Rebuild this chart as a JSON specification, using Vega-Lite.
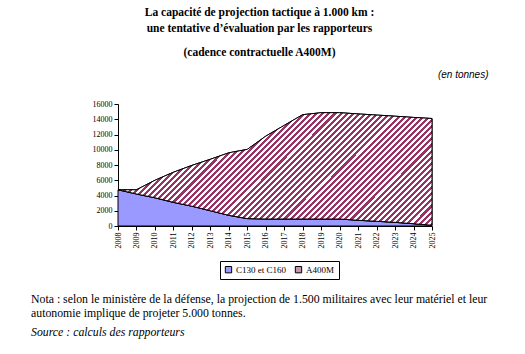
{
  "$schema": "https://vega.github.io/schema/vega-lite/v6.json",
  "autosize": "pad",
  "padding": {"left": 31, "top": 7, "right": 5, "bottom": 5},
  "background": "white",
  "config": {"view": {"stroke": null}, "font": "Liberation Serif"},
  "title": {
    "text": ["La capacité de projection tactique à 1.000 km :", "une tentative d’évaluation par les rapporteurs"],
    "subtitle": "(cadence contractuelle A400M)",
    "font": "Liberation Serif", "fontSize": 11.5, "fontWeight": "bold", "color": "black", "lineHeight": 16,
    "subtitleFont": "Liberation Serif", "subtitleFontSize": 11.5, "subtitleFontWeight": "bold", "subtitleColor": "black",
    "subtitlePadding": 12, "anchor": "middle", "offset": 11
  },
  "vconcat": [
    {
      "width": 314,
      "height": 122,
      "title": {
        "text": ["Nota : selon le ministère de la défense, la projection de 1.500 militaires avec leur matériel et leur", "autonomie implique de projeter 5.000 tonnes."],
        "subtitle": "Source : calculs des rapporteurs",
        "orient": "bottom", "anchor": "start", "frame": "group", "dx": -87, "offset": 46,
        "font": "Liberation Serif", "fontSize": 11.8, "fontWeight": "normal", "color": "black", "lineHeight": 14,
        "subtitleFont": "Liberation Serif", "subtitleFontSize": 11.8, "subtitleFontStyle": "italic", "subtitleColor": "black",
        "subtitlePadding": 7
      },
      "data": {
        "values": [
          {"year": 2008, "series": "C130 et C160", "tonnes": 4750},
          {"year": 2009, "series": "C130 et C160", "tonnes": 4200},
          {"year": 2010, "series": "C130 et C160", "tonnes": 3700},
          {"year": 2011, "series": "C130 et C160", "tonnes": 3100},
          {"year": 2012, "series": "C130 et C160", "tonnes": 2600},
          {"year": 2013, "series": "C130 et C160", "tonnes": 2000},
          {"year": 2014, "series": "C130 et C160", "tonnes": 1400},
          {"year": 2015, "series": "C130 et C160", "tonnes": 970},
          {"year": 2016, "series": "C130 et C160", "tonnes": 920},
          {"year": 2017, "series": "C130 et C160", "tonnes": 920},
          {"year": 2018, "series": "C130 et C160", "tonnes": 920},
          {"year": 2019, "series": "C130 et C160", "tonnes": 920},
          {"year": 2020, "series": "C130 et C160", "tonnes": 920},
          {"year": 2021, "series": "C130 et C160", "tonnes": 750},
          {"year": 2022, "series": "C130 et C160", "tonnes": 620},
          {"year": 2023, "series": "C130 et C160", "tonnes": 480},
          {"year": 2024, "series": "C130 et C160", "tonnes": 300},
          {"year": 2025, "series": "C130 et C160", "tonnes": 100},
          {"year": 2008, "series": "A400M", "tonnes": 0},
          {"year": 2009, "series": "A400M", "tonnes": 550},
          {"year": 2010, "series": "A400M", "tonnes": 2300},
          {"year": 2011, "series": "A400M", "tonnes": 3950},
          {"year": 2012, "series": "A400M", "tonnes": 5350},
          {"year": 2013, "series": "A400M", "tonnes": 6750},
          {"year": 2014, "series": "A400M", "tonnes": 8200},
          {"year": 2015, "series": "A400M", "tonnes": 9080},
          {"year": 2016, "series": "A400M", "tonnes": 10860},
          {"year": 2017, "series": "A400M", "tonnes": 12280},
          {"year": 2018, "series": "A400M", "tonnes": 13680},
          {"year": 2019, "series": "A400M", "tonnes": 13940},
          {"year": 2020, "series": "A400M", "tonnes": 13940},
          {"year": 2021, "series": "A400M", "tonnes": 13950},
          {"year": 2022, "series": "A400M", "tonnes": 13930},
          {"year": 2023, "series": "A400M", "tonnes": 13920},
          {"year": 2024, "series": "A400M", "tonnes": 13940},
          {"year": 2025, "series": "A400M", "tonnes": 14000}
        ]
      },
      "transform": [
        {"stack": "tonnes", "groupby": ["year"], "sort": [{"field": "series", "order": "descending"}], "as": ["y0", "y1"]}
      ],
      "encoding": {
        "x": {
          "field": "year", "type": "quantitative",
          "scale": {"domain": [2008, 2025], "nice": false, "zero": false},
          "axis": {
            "title": null, "values": [2008,2009,2010,2011,2012,2013,2014,2015,2016,2017,2018,2019,2020,2021,2022,2023,2024,2025],
            "format": "d", "labelAngle": -90, "labelFont": "Liberation Serif", "labelFontSize": 8, "labelColor": "black",
            "grid": false, "tickSize": 4, "tickColor": "black", "domainColor": "black", "labelPadding": 2, "labelFlush": false, "labelOverlap": false
          }
        },
        "y": {
          "field": "y1", "type": "quantitative",
          "scale": {"domain": [0, 16000], "nice": false},
          "axis": {
            "title": "(en tonnes)", "titleAngle": 0, "titleAlign": "right", "titleBaseline": "middle", "titleX": 370, "titleY": -30,
            "titleFont": "Liberation Sans", "titleFontStyle": "italic", "titleFontWeight": "normal", "titleFontSize": 10, "titleColor": "black",
            "values": [0,2000,4000,6000,8000,10000,12000,14000,16000], "format": "d",
            "labelFont": "Liberation Serif", "labelFontSize": 8, "labelColor": "black", "labelPadding": 2,
            "grid": false, "tickSize": 4, "tickColor": "black", "domainColor": "black"
          }
        },
        "y2": {"field": "y0"}
      },
      "layer": [
        {
          "mark": {"type": "area", "opacity": 1, "fillOpacity": 1, "stroke": "black", "strokeWidth": 1, "interpolate": "linear"},
          "encoding": {
            "color": {
              "field": "series", "type": "nominal",
              "scale": {"domain": ["C130 et C160", "A400M"], "range": ["#9999ff", "#c993ad"]},
              "legend": {
                "title": null, "orient": "none", "legendX": 102, "legendY": 157, "direction": "horizontal",
                "strokeColor": "black", "padding": 4, "cornerRadius": 0,
                "labelFont": "Liberation Serif", "labelFontSize": 9, "labelColor": "black",
                "symbolType": "square", "symbolSize": 40, "symbolStrokeColor": "black", "symbolStrokeWidth": 1,
                "columnPadding": 6, "labelOffset": 3
              }
            }
          }
        },
        {
          "transform": [{"filter": "datum.series == 'A400M'"}],
          "mark": {"type": "area", "opacity": 1, "fillOpacity": 1, "stroke": "black", "strokeWidth": 1, "interpolate": "linear",
            "color": {"gradient": "linear", "x1": 0, "y1": 0, "x2": 1.204, "y2": 0.431, "stops": [
{"offset":0,"color":"#fff"},
{"offset":0.0071,"color":"#fff"},{"offset":0.0071,"color":"#936"},
{"offset":0.0143,"color":"#936"},{"offset":0.0143,"color":"#fff"},
{"offset":0.0214,"color":"#fff"},{"offset":0.0214,"color":"#936"},
{"offset":0.0286,"color":"#936"},{"offset":0.0286,"color":"#fff"},
{"offset":0.0357,"color":"#fff"},{"offset":0.0357,"color":"#936"},
{"offset":0.0429,"color":"#936"},{"offset":0.0429,"color":"#fff"},
{"offset":0.05,"color":"#fff"},{"offset":0.05,"color":"#936"},
{"offset":0.0571,"color":"#936"},{"offset":0.0571,"color":"#fff"},
{"offset":0.0643,"color":"#fff"},{"offset":0.0643,"color":"#936"},
{"offset":0.0714,"color":"#936"},{"offset":0.0714,"color":"#fff"},
{"offset":0.0786,"color":"#fff"},{"offset":0.0786,"color":"#936"},
{"offset":0.0857,"color":"#936"},{"offset":0.0857,"color":"#fff"},
{"offset":0.0929,"color":"#fff"},{"offset":0.0929,"color":"#936"},
{"offset":0.1,"color":"#936"},{"offset":0.1,"color":"#fff"},
{"offset":0.1071,"color":"#fff"},{"offset":0.1071,"color":"#936"},
{"offset":0.1143,"color":"#936"},{"offset":0.1143,"color":"#fff"},
{"offset":0.1214,"color":"#fff"},{"offset":0.1214,"color":"#936"},
{"offset":0.1286,"color":"#936"},{"offset":0.1286,"color":"#fff"},
{"offset":0.1357,"color":"#fff"},{"offset":0.1357,"color":"#936"},
{"offset":0.1429,"color":"#936"},{"offset":0.1429,"color":"#fff"},
{"offset":0.15,"color":"#fff"},{"offset":0.15,"color":"#936"},
{"offset":0.1571,"color":"#936"},{"offset":0.1571,"color":"#fff"},
{"offset":0.1643,"color":"#fff"},{"offset":0.1643,"color":"#936"},
{"offset":0.1714,"color":"#936"},{"offset":0.1714,"color":"#fff"},
{"offset":0.1786,"color":"#fff"},{"offset":0.1786,"color":"#936"},
{"offset":0.1857,"color":"#936"},{"offset":0.1857,"color":"#fff"},
{"offset":0.1929,"color":"#fff"},{"offset":0.1929,"color":"#936"},
{"offset":0.2,"color":"#936"},{"offset":0.2,"color":"#fff"},
{"offset":0.2071,"color":"#fff"},{"offset":0.2071,"color":"#936"},
{"offset":0.2143,"color":"#936"},{"offset":0.2143,"color":"#fff"},
{"offset":0.2214,"color":"#fff"},{"offset":0.2214,"color":"#936"},
{"offset":0.2286,"color":"#936"},{"offset":0.2286,"color":"#fff"},
{"offset":0.2357,"color":"#fff"},{"offset":0.2357,"color":"#936"},
{"offset":0.2429,"color":"#936"},{"offset":0.2429,"color":"#fff"},
{"offset":0.25,"color":"#fff"},{"offset":0.25,"color":"#936"},
{"offset":0.2571,"color":"#936"},{"offset":0.2571,"color":"#fff"},
{"offset":0.2643,"color":"#fff"},{"offset":0.2643,"color":"#936"},
{"offset":0.2714,"color":"#936"},{"offset":0.2714,"color":"#fff"},
{"offset":0.2786,"color":"#fff"},{"offset":0.2786,"color":"#936"},
{"offset":0.2857,"color":"#936"},{"offset":0.2857,"color":"#fff"},
{"offset":0.2929,"color":"#fff"},{"offset":0.2929,"color":"#936"},
{"offset":0.3,"color":"#936"},{"offset":0.3,"color":"#fff"},
{"offset":0.3071,"color":"#fff"},{"offset":0.3071,"color":"#936"},
{"offset":0.3143,"color":"#936"},{"offset":0.3143,"color":"#fff"},
{"offset":0.3214,"color":"#fff"},{"offset":0.3214,"color":"#936"},
{"offset":0.3286,"color":"#936"},{"offset":0.3286,"color":"#fff"},
{"offset":0.3357,"color":"#fff"},{"offset":0.3357,"color":"#936"},
{"offset":0.3429,"color":"#936"},{"offset":0.3429,"color":"#fff"},
{"offset":0.35,"color":"#fff"},{"offset":0.35,"color":"#936"},
{"offset":0.3571,"color":"#936"},{"offset":0.3571,"color":"#fff"},
{"offset":0.3643,"color":"#fff"},{"offset":0.3643,"color":"#936"},
{"offset":0.3714,"color":"#936"},{"offset":0.3714,"color":"#fff"},
{"offset":0.3786,"color":"#fff"},{"offset":0.3786,"color":"#936"},
{"offset":0.3857,"color":"#936"},{"offset":0.3857,"color":"#fff"},
{"offset":0.3929,"color":"#fff"},{"offset":0.3929,"color":"#936"},
{"offset":0.4,"color":"#936"},{"offset":0.4,"color":"#fff"},
{"offset":0.4071,"color":"#fff"},{"offset":0.4071,"color":"#936"},
{"offset":0.4143,"color":"#936"},{"offset":0.4143,"color":"#fff"},
{"offset":0.4214,"color":"#fff"},{"offset":0.4214,"color":"#936"},
{"offset":0.4286,"color":"#936"},{"offset":0.4286,"color":"#fff"},
{"offset":0.4357,"color":"#fff"},{"offset":0.4357,"color":"#936"},
{"offset":0.4429,"color":"#936"},{"offset":0.4429,"color":"#fff"},
{"offset":0.45,"color":"#fff"},{"offset":0.45,"color":"#936"},
{"offset":0.4571,"color":"#936"},{"offset":0.4571,"color":"#fff"},
{"offset":0.4643,"color":"#fff"},{"offset":0.4643,"color":"#936"},
{"offset":0.4714,"color":"#936"},{"offset":0.4714,"color":"#fff"},
{"offset":0.4786,"color":"#fff"},{"offset":0.4786,"color":"#936"},
{"offset":0.4857,"color":"#936"},{"offset":0.4857,"color":"#fff"},
{"offset":0.4929,"color":"#fff"},{"offset":0.4929,"color":"#936"},
{"offset":0.5,"color":"#936"},{"offset":0.5,"color":"#fff"},
{"offset":0.5071,"color":"#fff"},{"offset":0.5071,"color":"#936"},
{"offset":0.5143,"color":"#936"},{"offset":0.5143,"color":"#fff"},
{"offset":0.5214,"color":"#fff"},{"offset":0.5214,"color":"#936"},
{"offset":0.5286,"color":"#936"},{"offset":0.5286,"color":"#fff"},
{"offset":0.5357,"color":"#fff"},{"offset":0.5357,"color":"#936"},
{"offset":0.5429,"color":"#936"},{"offset":0.5429,"color":"#fff"},
{"offset":0.55,"color":"#fff"},{"offset":0.55,"color":"#936"},
{"offset":0.5571,"color":"#936"},{"offset":0.5571,"color":"#fff"},
{"offset":0.5643,"color":"#fff"},{"offset":0.5643,"color":"#936"},
{"offset":0.5714,"color":"#936"},{"offset":0.5714,"color":"#fff"},
{"offset":0.5786,"color":"#fff"},{"offset":0.5786,"color":"#936"},
{"offset":0.5857,"color":"#936"},{"offset":0.5857,"color":"#fff"},
{"offset":0.5929,"color":"#fff"},{"offset":0.5929,"color":"#936"},
{"offset":0.6,"color":"#936"},{"offset":0.6,"color":"#fff"},
{"offset":0.6071,"color":"#fff"},{"offset":0.6071,"color":"#936"},
{"offset":0.6143,"color":"#936"},{"offset":0.6143,"color":"#fff"},
{"offset":0.6214,"color":"#fff"},{"offset":0.6214,"color":"#936"},
{"offset":0.6286,"color":"#936"},{"offset":0.6286,"color":"#fff"},
{"offset":0.6357,"color":"#fff"},{"offset":0.6357,"color":"#936"},
{"offset":0.6429,"color":"#936"},{"offset":0.6429,"color":"#fff"},
{"offset":0.65,"color":"#fff"},{"offset":0.65,"color":"#936"},
{"offset":0.6571,"color":"#936"},{"offset":0.6571,"color":"#fff"},
{"offset":0.6643,"color":"#fff"},{"offset":0.6643,"color":"#936"},
{"offset":0.6714,"color":"#936"},{"offset":0.6714,"color":"#fff"},
{"offset":0.6786,"color":"#fff"},{"offset":0.6786,"color":"#936"},
{"offset":0.6857,"color":"#936"},{"offset":0.6857,"color":"#fff"},
{"offset":0.6929,"color":"#fff"},{"offset":0.6929,"color":"#936"},
{"offset":0.7,"color":"#936"},{"offset":0.7,"color":"#fff"},
{"offset":0.7071,"color":"#fff"},{"offset":0.7071,"color":"#936"},
{"offset":0.7143,"color":"#936"},{"offset":0.7143,"color":"#fff"},
{"offset":0.7214,"color":"#fff"},{"offset":0.7214,"color":"#936"},
{"offset":0.7286,"color":"#936"},{"offset":0.7286,"color":"#fff"},
{"offset":0.7357,"color":"#fff"},{"offset":0.7357,"color":"#936"},
{"offset":0.7429,"color":"#936"},{"offset":0.7429,"color":"#fff"},
{"offset":0.75,"color":"#fff"},{"offset":0.75,"color":"#936"},
{"offset":0.7571,"color":"#936"},{"offset":0.7571,"color":"#fff"},
{"offset":0.7643,"color":"#fff"},{"offset":0.7643,"color":"#936"},
{"offset":0.7714,"color":"#936"},{"offset":0.7714,"color":"#fff"},
{"offset":0.7786,"color":"#fff"},{"offset":0.7786,"color":"#936"},
{"offset":0.7857,"color":"#936"},{"offset":0.7857,"color":"#fff"},
{"offset":0.7929,"color":"#fff"},{"offset":0.7929,"color":"#936"},
{"offset":0.8,"color":"#936"},{"offset":0.8,"color":"#fff"},
{"offset":0.8071,"color":"#fff"},{"offset":0.8071,"color":"#936"},
{"offset":0.8143,"color":"#936"},{"offset":0.8143,"color":"#fff"},
{"offset":0.8214,"color":"#fff"},{"offset":0.8214,"color":"#936"},
{"offset":0.8286,"color":"#936"},{"offset":0.8286,"color":"#fff"},
{"offset":0.8357,"color":"#fff"},{"offset":0.8357,"color":"#936"},
{"offset":0.8429,"color":"#936"},{"offset":0.8429,"color":"#fff"},
{"offset":0.85,"color":"#fff"},{"offset":0.85,"color":"#936"},
{"offset":0.8571,"color":"#936"},{"offset":0.8571,"color":"#fff"},
{"offset":0.8643,"color":"#fff"},{"offset":0.8643,"color":"#936"},
{"offset":0.8714,"color":"#936"},{"offset":0.8714,"color":"#fff"},
{"offset":0.8786,"color":"#fff"},{"offset":0.8786,"color":"#936"},
{"offset":0.8857,"color":"#936"},{"offset":0.8857,"color":"#fff"},
{"offset":0.8929,"color":"#fff"},{"offset":0.8929,"color":"#936"},
{"offset":0.9,"color":"#936"},{"offset":0.9,"color":"#fff"},
{"offset":0.9071,"color":"#fff"},{"offset":0.9071,"color":"#936"},
{"offset":0.9143,"color":"#936"},{"offset":0.9143,"color":"#fff"},
{"offset":0.9214,"color":"#fff"},{"offset":0.9214,"color":"#936"},
{"offset":0.9286,"color":"#936"},{"offset":0.9286,"color":"#fff"},
{"offset":0.9357,"color":"#fff"},{"offset":0.9357,"color":"#936"},
{"offset":0.9429,"color":"#936"},{"offset":0.9429,"color":"#fff"},
{"offset":0.95,"color":"#fff"},{"offset":0.95,"color":"#936"},
{"offset":0.9571,"color":"#936"},{"offset":0.9571,"color":"#fff"},
{"offset":0.9643,"color":"#fff"},{"offset":0.9643,"color":"#936"},
{"offset":0.9714,"color":"#936"},{"offset":0.9714,"color":"#fff"},
{"offset":0.9786,"color":"#fff"},{"offset":0.9786,"color":"#936"},
{"offset":0.9857,"color":"#936"},{"offset":0.9857,"color":"#fff"},
{"offset":0.9929,"color":"#fff"},{"offset":0.9929,"color":"#936"},
{"offset":1,"color":"#936"}
            ]}
          }
        }
      ]
    }
  ]
}
